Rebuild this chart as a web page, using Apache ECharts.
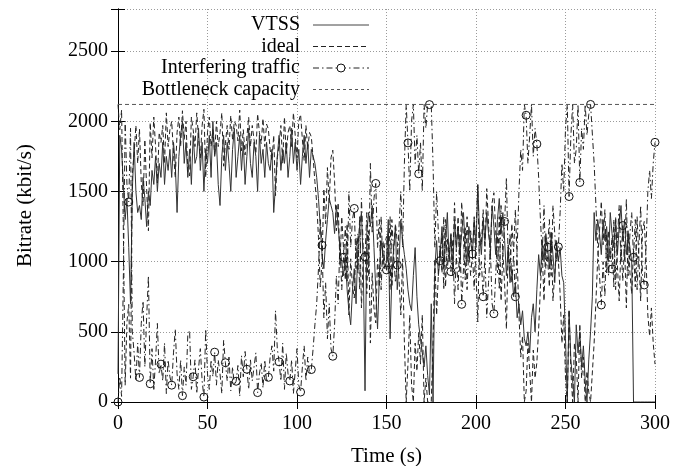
<!DOCTYPE html>
<html><head><meta charset="utf-8">
<script src="https://cdn.jsdelivr.net/npm/echarts@6/dist/echarts.min.js"></script>
<style>html,body{margin:0;padding:0;background:#fff}#c{width:688px;height:466px}</style>
</head><body><div id="c"></div>
<script>
// ---- data (kbit/s), sampled every STEP_S seconds from t=0 ----
const X_TICKS = [0, 50, 100, 150, 200, 250, 300];
const Y_TICKS = [0, 500, 1000, 1500, 2000, 2500];
const STEP_S = 1;
const MARKER_EVERY = 6;
const CAPACITY = [2120, 2120];
const CAPACITY_T = [0, 300];
const LEGEND_LABELS = ['VTSS', 'ideal', 'Interfering traffic', 'Bottleneck capacity'];

const VTSS = [
 200,1900,1800,1550,1300,1450,1100,700,1500,1850,
 1500,1350,1400,1300,1600,1450,1250,1500,1400,1650,
 1550,1750,1500,1700,1600,1850,1550,1750,1650,1800,
 1600,1850,1700,1350,1750,1900,2000,1700,1850,1600,
 1800,1550,1900,1700,1750,1950,1650,1850,1500,1800,
 1700,1900,1600,2000,1750,1850,1550,1400,1750,1900,
 1650,1850,1700,1500,1800,1950,1600,1750,1900,1650,
 1850,1550,1750,1950,1700,1600,1850,1750,1500,1900,
 1700,1800,1600,1850,1700,1650,1800,1350,1550,1750,
 1900,1650,1800,1700,1850,1600,1750,1950,1700,1850,
 1650,1800,1550,1750,1900,1700,1850,1600,1800,1750,
 1700,1600,1450,1250,1050,950,1150,1300,1450,1400,
 1350,1200,1400,1250,1100,1000,900,1050,800,650,
 550,800,950,700,1100,1250,1350,1000,80,1200,
 1350,1250,1400,1100,800,520,900,1150,1050,950,
 1000,1300,450,900,1100,1250,800,1000,1300,1150,
 1050,950,800,700,650,900,1100,750,550,450,
 350,250,400,190,50,700,0,950,1150,900,
 1050,1250,950,1150,1350,1000,1200,900,1300,1100,
 1250,1050,1200,1350,1100,1000,1250,1150,1050,1300,
 1100,1550,1200,1050,1300,1150,1350,1200,1100,1400,
 1250,1050,1300,1450,1200,1350,1150,900,1100,850,
 950,750,850,600,700,550,650,450,400,500,
 350,600,700,500,800,1050,900,1150,1000,1200,
 1100,950,1200,1050,850,1150,1000,1100,900,850,
 450,0,650,300,150,0,550,350,500,250,
 400,150,0,300,500,750,1350,1150,1300,1200,
 1050,1300,1150,1250,1000,1350,1200,1100,1300,1050,
 1250,1400,1150,1300,1050,1200,1100,1000,0,0,
 0,0,0,0,0,0,0,0,0,0,0
];

const IDEAL = [
 2120,1940,2080,1220,120,570, 695,170,1620,1770,1970,1700,
 1945,1560,1400,1870,1520,1220, 1990,1740,2030,1820,1560,1920,
 1850,1970,1700,2060,1820,1940, 2000,1770,1600,1920,2030,1820,
 2075,1870,2000,1640,1610,2030, 1940,1820,2060,1880,1740,1970,
 2085,1600,1920,2030,1820,1940, 1765,2000,1820,1920,2060,1680,
 1840,1970,1800,2040,1870,2000, 1972,1860,2080,1790,1940,1760,
 1887,2030,1820,1970,1870,1770, 2053,1920,1840,2020,1820,1980,
 1944,1800,1720,1900,1470,1740, 1834,1970,1700,2030,1770,1920,
 1970,1820,2060,1900,1740,2000, 2049,1870,1720,1970,1800,1920,
 1889,1740,1570,1420,1170,820, 1003,1520,1270,1670,1420,1740,
 1794,1570,1220,1420,970,1320, 1089,870,1270,620,1020,820,
 741,1170,920,1320,670,1020, 1086,770,1220,420,920,670,
 563,1020,820,1320,970,1120, 1179,920,1320,820,1070,1270,
 1144,870,620,1020,420,0, 274,620,120,0,420,220,
 494,270,620,0,170,0, 1,0,420,1020,620,920,
 1113,920,1320,820,1170,1020, 1191,970,1420,1070,1320,920,
 1424,1170,870,1320,1020,1220, 1065,1320,920,570,1220,1120,
 1370,1070,1520,1270,1020,1420, 1491,1220,920,1320,720,1070,
 834,520,1120,920,1270,1070, 1370,1020,620,320,470,0,
 77,420,220,0,370,170, 282,520,820,1070,720,1170,
 1017,820,1220,720,920,1120, 1015,770,420,620,170,0,
 656,220,0,420,320,0, 556,170,320,0,220,70,
 0,0,420,720,1020,1220, 1429,1120,1370,920,1220,1020,
 1172,820,1320,970,720,1120, 863,1120,670,1220,920,770,
 1089,820,1320,1020,720,1220, 1286,1020,620,470,670,420,
 270
];

const INTERFERING = [
 0,180,40,900,2000,1550, 1425,1950,500,350,150,420,
 175,560,720,250,600,900, 130,380,90,300,560,200,
 270,150,420,60,300,180, 120,350,520,200,90,300,
 45,250,120,480,510,90, 180,300,60,240,380,150,
 35,520,200,90,300,180, 355,120,300,200,60,440,
 280,150,320,80,250,120, 148,260,40,330,180,360,
 233,90,300,150,250,350, 67,200,280,100,300,140,
 176,320,400,220,650,380, 286,150,420,90,350,200,
 150,300,60,220,380,120, 71,250,400,150,320,200,
 231,380,550,700,950,1300, 1117,600,850,450,700,380,
 326,550,900,700,1150,800, 1031,1250,850,1500,1100,1300,
 1379,950,1200,800,1450,1100, 1034,1350,900,1700,1200,1450,
 1557,1100,1300,800,1150,1000, 941,1200,800,1300,1050,850,
 976,1250,1500,1100,1700,2120, 1846,1500,2000,2120,1700,1900,
 1626,1850,1500,2120,1950,2120, 2119,2120,1700,1100,1500,1200,
 1007,1200,800,1300,950,1100, 929,1150,700,1050,800,1200,
 696,950,1250,800,1100,900, 1055,800,1200,1550,900,1000,
 750,1050,600,850,1100,700, 629,900,1200,800,1400,1050,
 1286,1600,1000,1200,850,1050, 750,1100,1500,1800,1650,2120,
 2043,1700,1900,2120,1750,1950, 1838,1600,1300,1050,1400,950,
 1103,1300,900,1400,1200,1000, 1105,1350,1700,1500,1950,2120,
 1464,1900,2120,1700,1800,2120, 1564,1950,1800,2120,1900,2050,
 2120,2120,1700,1400,1100,900, 691,1000,750,1200,900,1100,
 948,1300,800,1150,1400,1000, 1257,1000,1450,900,1200,1350,
 1031,1300,800,1100,1400,900, 834,1100,1500,1650,1450,1700,
 1850
];

// ---- chart ----
const FONT = 'Liberation Serif';
const toPairs = arr => arr.map((v, i) => [i * STEP_S, v]);

const chart = echarts.init(document.getElementById('c'));
const gridLine = { show: true, lineStyle: { color: '#9a9a9a', type: [1, 2], width: 1 } };
const axisLine = { show: true, lineStyle: { color: '#000', width: 1 } };

const LX = 300, LX1 = 313, LX2 = 369;
const LY = [25, 46.5, 68, 89.5];
const legendText = (t, y) => ({
  type: 'text', x: LX, y: y, z: 100,
  style: { text: t, align: 'right', verticalAlign: 'middle', fontFamily: FONT, fontSize: 20, fill: '#000' }
});
const legendLine = (y, dash, color) => ({
  type: 'line', z: 100, shape: { x1: LX1, y1: y, x2: LX2, y2: y },
  style: { stroke: color, lineWidth: 1, lineDash: dash }
});

chart.setOption({
  animation: false,
  backgroundColor: '#fff',
  grid: { left: 118, top: 9, right: 33, bottom: 64, containLabel: false, outerBoundsMode: 'none' },
  xAxis: [{
    type: 'value', min: X_TICKS[0], max: X_TICKS[X_TICKS.length - 1], interval: 50,
    position: 'bottom',
    axisLine: axisLine,
    axisTick: { show: true, inside: true, length: 7, lineStyle: { color: '#000' } },
    axisLabel: { color: '#000', fontFamily: FONT, fontSize: 20, margin: 12 },
    splitLine: gridLine,
    name: 'Time (s)', nameLocation: 'middle', nameGap: 44,
    nameTextStyle: { color: '#000', fontFamily: FONT, fontSize: 21 }
  }, {
    type: 'value', min: X_TICKS[0], max: X_TICKS[X_TICKS.length - 1], interval: 50,
    position: 'top',
    axisLine: axisLine,
    axisTick: { show: true, inside: true, length: 7, lineStyle: { color: '#000' } },
    axisLabel: { show: false }, splitLine: { show: false }
  }],
  yAxis: [{
    type: 'value', min: 0, max: 2800, interval: 500,
    position: 'left',
    axisLine: axisLine,
    axisTick: { show: true, inside: true, length: 7, lineStyle: { color: '#000' } },
    axisLabel: { color: '#000', fontFamily: FONT, fontSize: 20, margin: 10,
      formatter: v => (Y_TICKS.indexOf(v) >= 0 ? String(v) : '') },
    splitLine: gridLine,
    name: 'Bitrate (kbit/s)', nameLocation: 'middle', nameGap: 82,
    nameTextStyle: { color: '#000', fontFamily: FONT, fontSize: 21 }
  }, {
    type: 'value', min: 0, max: 2800, interval: 500,
    position: 'right',
    axisLine: axisLine,
    axisTick: { show: true, inside: true, length: 7, lineStyle: { color: '#000' } },
    axisLabel: { show: false }, splitLine: { show: false }
  }],
  series: [{
    name: LEGEND_LABELS[0], type: 'line', data: toPairs(VTSS),
    showSymbol: false, symbol: 'none',
    lineStyle: { color: '#333', width: 1 }
  }, {
    name: LEGEND_LABELS[1], type: 'line', data: toPairs(IDEAL),
    showSymbol: false, symbol: 'none',
    lineStyle: { color: '#222', width: 1, type: [5, 3] }
  }, {
    name: LEGEND_LABELS[2], type: 'line', data: toPairs(INTERFERING),
    showSymbol: true, showAllSymbol: true,
    symbol: (v, p) => (p.dataIndex % MARKER_EVERY === 0 ? 'circle' : 'none'),
    symbolSize: 8,
    itemStyle: { color: 'rgba(255,255,255,0)', borderColor: '#111', borderWidth: 1 },
    lineStyle: { color: '#222', width: 1, type: [6, 3, 1.5, 3] }
  }, {
    name: LEGEND_LABELS[3], type: 'line', data: CAPACITY_T.map((t, i) => [t, CAPACITY[i]]),
    showSymbol: false, symbol: 'none',
    lineStyle: { color: '#555', width: 1, type: [4, 3] }
  }],
  graphic: [
    legendText(LEGEND_LABELS[0], LY[0]), legendLine(LY[0], null, '#444'),
    legendText(LEGEND_LABELS[1], LY[1]), legendLine(LY[1], [5, 3], '#222'),
    legendText(LEGEND_LABELS[2], LY[2]), legendLine(LY[2], [6, 3, 1.5, 3], '#222'),
    { type: 'circle', z: 101, shape: { cx: (LX1 + LX2) / 2, cy: LY[2], r: 4 },
      style: { fill: '#fff', stroke: '#111', lineWidth: 1 } },
    legendText(LEGEND_LABELS[3], LY[3]), legendLine(LY[3], [3, 3], '#555')
  ]
});
</script>
</body></html>
